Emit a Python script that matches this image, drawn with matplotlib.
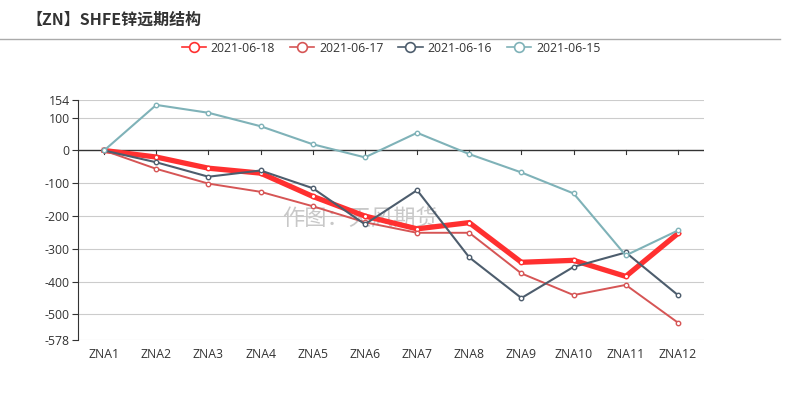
import numpy as np
import matplotlib
matplotlib.use("Agg")
import matplotlib.pyplot as plt
from matplotlib.lines import Line2D

plt.rcParams['font.family'] = ['Open Sans', 'Noto Sans CJK SC', 'DejaVu Sans']

contracts = ['ZNA1', 'ZNA2', 'ZNA3', 'ZNA4', 'ZNA5', 'ZNA6',
             'ZNA7', 'ZNA8', 'ZNA9', 'ZNA10', 'ZNA11', 'ZNA12']
dates = ['2021-06-18', '2021-06-17', '2021-06-16', '2021-06-15']
v0618 = [0, -20, -54, -69, -140, -200, -239, -220, -341, -335, -384, -253]
v0617 = [0, -56, -101, -126, -170, -219, -251, -251, -375, -441, -410, -525]
v0616 = [0, -36, -80, -61, -115, -225, -121, -326, -450, -355, -311, -441]
v0615 = [0, 139, 115, 74, 19, -21, 54, -11, -67, -131, -320, -244]
yticks = [154, 100, 0, -100, -200, -300, -400, -500, -578]

series = [v0618, v0617, v0616, v0615]
colors = ['#ff3030', '#d65555', '#4d5d6d', '#7fb2b8']
widths = [3.8, 1.4, 1.5, 1.5]

fig = plt.figure(figsize=(7.88, 4.0), dpi=100)
ax = fig.add_axes([78/788, 0.15, (704-78)/788, 0.60])

x = np.arange(len(contracts))
for i, (vals, c, lw) in enumerate(zip(series, colors, widths)):
    ax.plot(x, vals, color=c, lw=lw, marker='o', ms=3.2, mfc='white',
            mec=c, mew=1.0, zorder=3+i, solid_joinstyle='miter')

ax.set_xlim(-0.5, len(contracts)-0.5)
ax.set_ylim(-578, 154)
ax.set_yticks(yticks)
ax.set_yticklabels([str(t) for t in yticks])
ax.set_xticks(x)
ax.set_xticklabels(contracts)
for t in yticks:
    if t != 0:
        ax.axhline(t, color='#cccccc', lw=0.8, zorder=1)
ax.axhline(0, color='#333333', lw=1.0, zorder=2)
for xi in x:
    ax.plot([xi, xi], [0, -12], color='#333333', lw=0.8, zorder=2)

for s in ['top', 'right', 'bottom']:
    ax.spines[s].set_visible(False)
ax.spines['left'].set_color('#333333')
ax.tick_params(axis='y', length=4, color='#333333', labelsize=8.8, labelcolor='#333333', pad=2)
ax.tick_params(axis='x', length=0, labelsize=8.8, labelcolor='#333333', pad=6)

ax.text(0.45, 0.505, '作图：天风期货', transform=ax.transAxes, fontsize=16,
        color='#c8c8c8', ha='center', va='center', zorder=1.5,
        family=['Noto Sans CJK SC'])

fig.text(26/788, 1-20/400, '【ZN】SHFE锌远期结构', fontsize=11.5, fontweight='bold',
         color='#333333', va='center', ha='left', family=['Noto Sans CJK SC'])
fig.add_artist(Line2D([0, 780/788], [1-39/400, 1-39/400], color='#aaaaaa', lw=1.0))

handles = [Line2D([], [], color=c, lw=1.2, marker='o', ms=7, mfc='white', mec=c, mew=1.2)
           for c in colors]
fig.legend(handles, dates, loc='center', bbox_to_anchor=(391/788, 1-48/400), ncol=4,
           frameon=False, fontsize=8.8, handlelength=2.0, handletextpad=0.4,
           columnspacing=1.2, labelcolor='#333333')

fig.savefig('out.png', dpi=100)
